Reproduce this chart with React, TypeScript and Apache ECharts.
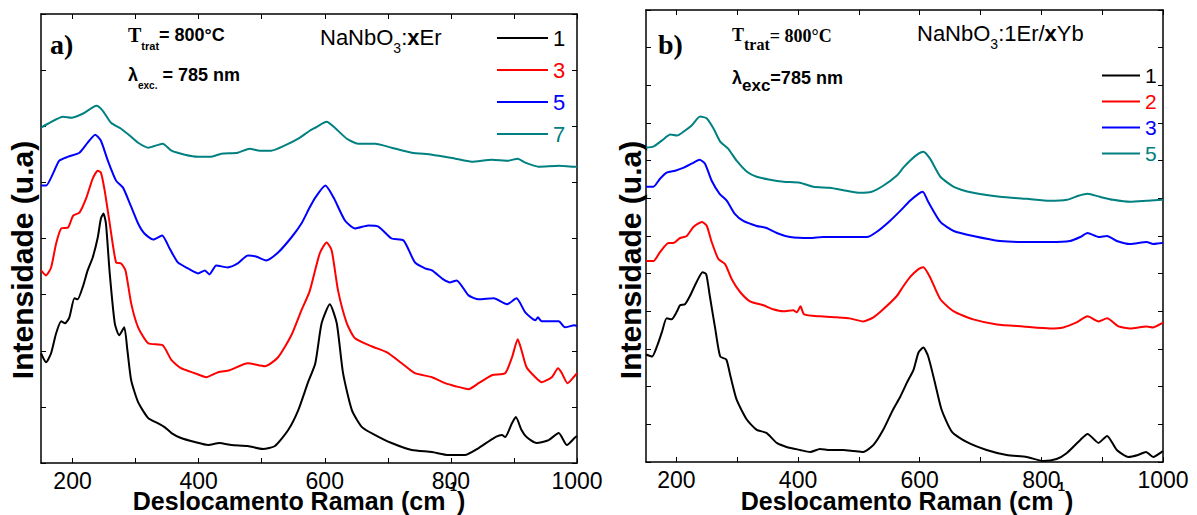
import React, { useEffect, useRef } from 'react';
import * as echarts from 'echarts';

type P = [number, number][];

const SANS = '"Liberation Sans", Arial, sans-serif';
const SERIF = '"Liberation Serif", "Times New Roman", serif';

const xTickValues = [200, 300, 400, 500, 600, 700, 800, 900, 1000];
const xLabelValues = [200, 400, 600, 800, 1000];

const erLabels = ['1', '3', '5', '7'];
const ybLabels = ['1', '2', '3', '5'];
const lineColors = ['#000000', '#ff0000', '#0000ff', '#008080'];

// Panel a) NaNbO3:xEr  (Raman shift cm-1, intensity a.u.)
const er1: P = [[150,110],[158,101],[166,110],[174,130],[182,142],[188,140],[195,146],[203,165],[208,164],[216,176],[224,193],[232,206],[240,226],[245,245],[249,250],[253,240],[259,190],[267,140],[274,128],[282,136],[287,113],[293,83],[304,61],[320,45],[335,40],[346,36],[357,30],[372,25],[394,21],[415,18],[433,20],[452,18],[478,17],[502,14],[521,17],[542,33],[558,53],[573,80],[585,100],[595,140],[608,159],[619,140],[629,90],[643,53],[659,36],[680,28],[706,20],[738,13],[770,11],[796,8],[822,8],[844,15],[868,25],[881,28],[886,26],[897,40],[903,46],[912,33],[920,26],[936,20],[955,23],[971,30],[984,18],[996,25],[1000,27]];
const er3: P = [[150,193],[158,188],[166,196],[174,220],[182,235],[193,236],[201,248],[211,251],[222,266],[232,285],[240,293],[245,291],[251,273],[259,240],[269,201],[277,200],[284,193],[293,160],[304,136],[320,120],[343,118],[357,103],[372,95],[394,90],[412,86],[431,91],[449,93],[478,100],[505,97],[526,106],[547,128],[563,153],[576,172],[592,210],[603,221],[611,213],[621,173],[635,140],[648,125],[674,117],[698,111],[722,100],[743,90],[770,86],[791,80],[807,77],[828,74],[844,80],[865,88],[886,90],[897,106],[906,124],[912,113],[920,96],[934,86],[944,81],[960,86],[970,95],[976,90],[985,80],[996,87],[1000,90]];
const er5: P = [[150,278],[158,278],[169,290],[179,303],[193,307],[211,311],[224,321],[236,329],[245,323],[256,303],[269,283],[280,276],[291,260],[304,240],[314,230],[328,224],[342,228],[354,215],[367,201],[383,195],[399,190],[410,193],[417,189],[428,198],[446,196],[462,200],[478,208],[491,207],[507,203],[526,211],[547,226],[563,240],[576,256],[585,266],[601,278],[614,266],[632,243],[648,235],[669,238],[685,237],[706,225],[725,223],[743,201],[759,195],[770,193],[788,184],[799,181],[809,183],[828,168],[844,164],[868,165],[889,159],[904,165],[918,151],[934,143],[938,146],[944,142],[971,142],[981,136],[996,138],[1000,137]];
const er7: P = [[150,336],[161,340],[185,347],[198,346],[216,350],[238,358],[248,353],[261,341],[277,335],[291,328],[304,321],[320,316],[343,320],[357,313],[378,309],[399,307],[420,307],[436,310],[462,311],[481,315],[497,313],[515,313],[536,318],[558,325],[576,333],[585,336],[603,342],[616,336],[635,325],[653,320],[680,320],[706,316],[738,311],[770,309],[807,305],[833,302],[865,304],[891,303],[906,305],[918,301],[939,297],[971,298],[996,297],[1000,297]];

// Panel b) NaNbO3:1Er/xYb
const yb1: P = [[150,107],[160,105],[168,115],[176,129],[184,143],[192,142],[201,150],[206,156],[214,157],[222,165],[233,179],[243,189],[249,187],[255,165],[264,132],[272,105],[282,102],[289,85],[299,62],[316,42],[332,32],[348,29],[365,19],[381,15],[403,12],[420,10],[436,13],[452,12],[474,12],[491,11],[507,10],[524,17],[540,32],[556,52],[568,65],[579,79],[590,92],[598,109],[606,114],[614,105],[625,79],[636,52],[653,30],[677,20],[710,12],[743,7],[776,5],[803,1],[825,3],[842,9],[864,22],[876,28],[894,19],[908,26],[924,12],[943,5],[959,7],[972,10],[984,5],[998,10],[1000,11]];
const yb2: P = [[150,200],[162,200],[173,209],[187,218],[195,218],[206,223],[217,225],[228,234],[242,239],[250,235],[258,219],[269,202],[280,197],[291,182],[305,169],[321,160],[343,156],[359,152],[376,150],[392,151],[398,149],[404,155],[410,147],[436,145],[463,144],[485,143],[507,140],[524,144],[540,152],[562,165],[572,174],[584,184],[598,192],[606,194],[617,184],[634,162],[656,150],[688,142],[727,137],[770,135],[814,133],[836,134],[858,139],[876,145],[894,140],[908,143],[927,135],[946,133],[973,135],[984,134],[998,138],[1000,139]];
const yb3: P = [[150,274],[162,274],[173,282],[184,288],[198,290],[212,293],[225,297],[238,301],[247,297],[258,280],[271,267],[283,260],[296,247],[310,240],[332,235],[348,233],[365,228],[387,224],[420,223],[441,224],[463,224],[485,224],[513,224],[529,229],[551,240],[568,250],[584,260],[598,267],[605,269],[614,259],[634,239],[656,230],[688,225],[732,220],[776,219],[814,219],[847,220],[864,224],[876,228],[894,224],[908,225],[924,220],[946,217],[973,219],[984,217],[998,218],[1000,218]];
const yb5: P = [[150,313],[162,314],[176,320],[190,326],[201,325],[212,329],[225,335],[239,344],[250,342],[261,332],[272,319],[285,312],[299,300],[316,289],[332,284],[354,281],[376,279],[403,278],[425,274],[452,273],[480,270],[502,268],[521,269],[540,275],[562,285],[573,293],[584,300],[598,307],[606,309],[617,302],[634,284],[656,274],[688,268],[732,264],[776,262],[814,260],[842,261],[861,265],[876,267],[896,264],[918,261],[946,259],[973,260],[998,261],[1000,261]];

const erData = [er1, er3, er5, er7];
const ybData = [yb1, yb2, yb3, yb5];

type Part = { t: string; size: number; family: string; weight?: string; pad: number };

function richText(x: number, y: number, parts: Part[], align = 'left') {
  const rich: Record<string, any> = {};
  const text = parts
    .map((p, i) => {
      rich['p' + i] = {
        fontSize: p.size,
        fontFamily: p.family,
        fontWeight: p.weight || 'normal',
        lineHeight: p.size,
        padding: [p.pad, 0, 0, 0],
        verticalAlign: 'top',
        fill: '#000',
      };
      return `{p${i}|${p.t}}`;
    })
    .join('');
  return {
    type: 'text',
    x,
    y,
    silent: true,
    style: { text, rich, align, verticalAlign: 'top', fill: '#000' },
  };
}

function plainText(x: number, y: number, text: string, size: number, family: string, weight: string, rotation = 0, align = 'left') {
  return {
    type: 'text',
    x,
    y,
    rotation,
    silent: true,
    style: { text, fontSize: size, fontFamily: family, fontWeight: weight, align, verticalAlign: 'middle', fill: '#000' },
  };
}

function xAxes(grid: number) {
  const base: any = {
    type: 'value',
    gridIndex: grid,
    min: 150,
    max: 1000,
    splitLine: { show: false },
    axisLine: { show: true, onZero: false, lineStyle: { color: '#000', width: 1.5 } },
    axisTick: { show: true, inside: true, length: 5, customValues: xTickValues, lineStyle: { color: '#000', width: 1 } },
  };
  return [
    {
      ...base,
      position: 'bottom',
      axisLabel: {
        show: true,
        customValues: xLabelValues,
        margin: 7,
        fontSize: 23,
        lineHeight: 22,
        fontFamily: SANS,
        color: '#000',
        formatter: (v: number) => String(v),
      },
    },
    { ...base, position: 'top', axisLabel: { show: false } },
  ];
}

function yAxes(grid: number, interval: number) {
  const base: any = {
    type: 'value',
    gridIndex: grid,
    min: 0,
    max: 450,
    interval,
    splitLine: { show: false },
    axisLabel: { show: false },
    axisLine: { show: true, onZero: false, lineStyle: { color: '#000', width: 1.5 } },
    axisTick: { show: true, inside: true, length: 5, lineStyle: { color: '#000', width: 1 } },
  };
  return [
    { ...base, position: 'left' },
    { ...base, position: 'right' },
  ];
}

function makeSeries(data: P[], labels: string[], prefix: string, axisIdx: number) {
  return data.map((d, i) => ({
    type: 'line',
    name: prefix + labels[i],
    xAxisIndex: axisIdx,
    yAxisIndex: axisIdx,
    data: d,
    showSymbol: false,
    symbol: 'none',
    smooth: 0.2,
    silent: true,
    lineStyle: { color: lineColors[i], width: 2 },
    itemStyle: { color: lineColors[i] },
  }));
}

function makeLegend(labels: string[], prefix: string, left: number, top: number, itemWidth: number, fontSize: number, gap: number) {
  return {
    orient: 'vertical',
    left,
    top,
    icon: 'rect',
    itemWidth,
    itemHeight: 2,
    itemGap: gap,
    selectedMode: false,
    formatter: (n: string) => n.slice(1),
    textStyle: { fontSize, fontFamily: SANS, lineHeight: fontSize },
    data: labels.map((l, i) => ({ name: prefix + l, textStyle: { color: lineColors[i] } })),
  };
}

export default function App() {
  const ref = useRef<HTMLDivElement>(null);
  useEffect(() => {
    const chart = echarts.init(ref.current!, null, { renderer: 'svg' });
    const option: any = {
      animation: false,
      backgroundColor: '#ffffff',
      grid: [
        { left: 41, top: 14, width: 536, height: 449 },
        { left: 646, top: 10, width: 517, height: 452 },
      ],
      xAxis: [...xAxes(0), ...xAxes(1)],
      yAxis: [...yAxes(0, 56.25), ...yAxes(1, 37.5)],
      legend: [
        makeLegend(erLabels, 'a', 492, 22, 51, 22, 10),
        makeLegend(ybLabels, 'b', 1097, 60, 38, 21, 5),
      ],
      series: [...makeSeries(erData, erLabels, 'a', 0), ...makeSeries(ybData, ybLabels, 'b', 2)],
      graphic: [
        plainText(50, 44, 'a)', 28, SERIF, 'bold'),
        richText(128, 25, [
          { t: 'T', size: 20, family: SERIF, weight: 'bold', pad: 0 },
          { t: 'trat', size: 11, family: SANS, weight: 'bold', pad: 15 },
          { t: '= 800°C', size: 18, family: SANS, weight: 'bold', pad: 1 },
        ]),
        richText(128, 66, [
          { t: 'λ', size: 18, family: SANS, weight: 'bold', pad: 0 },
          { t: 'exc.', size: 10, family: SANS, weight: 'bold', pad: 14 },
          { t: ' = 785 nm', size: 18, family: SANS, weight: 'bold', pad: 0 },
        ]),
        richText(320, 26, [
          { t: 'NaNbO', size: 22, family: SANS, pad: 0 },
          { t: '3', size: 14, family: SANS, pad: 15 },
          { t: ':', size: 22, family: SANS, pad: 0 },
          { t: 'x', size: 22, family: SANS, weight: 'bold', pad: 0 },
          { t: 'Er', size: 22, family: SANS, pad: 0 },
        ]),
        plainText(658, 44, 'b)', 28, SERIF, 'bold'),
        richText(732, 26, [
          { t: 'T', size: 18, family: SERIF, weight: 'bold', pad: 0 },
          { t: 'trat', size: 16, family: SERIF, weight: 'bold', pad: 10 },
          { t: '= 800°C', size: 18, family: SERIF, weight: 'bold', pad: 1 },
        ]),
        richText(732, 69, [
          { t: 'λ', size: 18, family: SANS, weight: 'bold', pad: 0 },
          { t: 'exc', size: 17, family: SANS, weight: 'bold', pad: 8 },
          { t: '=785 nm', size: 18, family: SANS, weight: 'bold', pad: 0 },
        ]),
        richText(917, 22, [
          { t: 'NaNbO', size: 22, family: SANS, pad: 0 },
          { t: '3', size: 14, family: SANS, pad: 15 },
          { t: ':1Er/', size: 22, family: SANS, pad: 0 },
          { t: 'x', size: 22, family: SANS, weight: 'bold', pad: 0 },
          { t: 'Yb', size: 22, family: SANS, pad: 0 },
        ]),
        plainText(22, 260, 'Intensidade (u.a)', 30, SANS, 'bold', Math.PI / 2, 'center'),
        plainText(630, 260, 'Intensidade (u.a)', 30, SANS, 'bold', Math.PI / 2, 'center'),
        richText(299, 480, [
          { t: 'Deslocamento Raman (cm', size: 25, family: SANS, weight: 'bold', pad: 8 },
          { t: '-1', size: 13, family: SANS, weight: 'bold', pad: 0 },
          { t: ')', size: 25, family: SANS, weight: 'bold', pad: 8 },
        ], 'center'),
        richText(907, 480, [
          { t: 'Deslocamento Raman (cm', size: 25, family: SANS, weight: 'bold', pad: 8 },
          { t: '-1', size: 13, family: SANS, weight: 'bold', pad: 0 },
          { t: ')', size: 25, family: SANS, weight: 'bold', pad: 8 },
        ], 'center'),
      ],
    };
    chart.setOption(option);
    return () => chart.dispose();
  }, []);
  return (
    <div
      ref={ref}
      style={{ position: 'absolute', left: 0, top: 0, width: 1197, height: 515, background: '#fff' }}
    />
  );
}
